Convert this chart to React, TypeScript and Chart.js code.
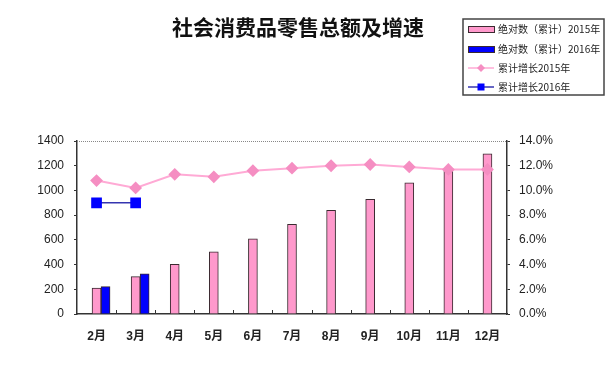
import React, { useEffect, useRef } from 'react';
import { Chart, registerables } from 'chart.js';
Chart.register(...registerables);

const chartTitle = '社会消费品零售总额及增速';
const categories = ['2月', '3月', '4月', '5月', '6月', '7月', '8月', '9月', '10月', '11月', '12月'];
const absolute2015 = [210, 302, 402, 504, 609, 726, 839, 928, 1062, 1165, 1297];
const absolute2016 = [221, 326, null, null, null, null, null, null, null, null, null];
const growth2015 = [10.8, 10.2, 11.3, 11.1, 11.6, 11.8, 12.0, 12.1, 11.9, 11.7, 11.7];
const growth2016 = [9.0, 9.0, null, null, null, null, null, null, null, null, null];
const placeholder = categories.map(() => null);
const legendLabels = ['绝对数（累计）2015年', '绝对数（累计）2016年', '累计增长2015年', '累计增长2016年'];

const PINK = '#FF99CC';
const PINK_LINE = '#FFAAD5';
const PINK_MARK = '#F58EC2';
const BLUE = '#0000FF';
const NAVY = '#3535B0';
const DARK = '#3a2a30';

const decorPlugin = {
  id: 'decor',
  afterDraw(chart: any) {
    const ctx = chart.ctx;
    const x = chart.scales.x;
    const area = chart.chartArea;
    ctx.save();
    // top dotted border
    ctx.strokeStyle = '#888';
    ctx.lineWidth = 1;
    ctx.setLineDash([1, 1]);
    ctx.beginPath();
    ctx.moveTo(area.left, area.top + 0.5);
    ctx.lineTo(area.right, area.top + 0.5);
    ctx.stroke();
    ctx.setLineDash([]);
    // inner ticks between categories
    const n = categories.length;
    ctx.strokeStyle = '#333';
    ctx.beginPath();
    for (let i = 1; i < n; i++) {
      const px = Math.round(x.left + (i * x.width) / n) + 0.5;
      ctx.moveTo(px, x.top);
      ctx.lineTo(px, x.top - 4);
    }
    ctx.stroke();

    // title
    ctx.fillStyle = '#111';
    ctx.font = 'bold 21px "Noto Sans CJK SC", sans-serif';
    ctx.textAlign = 'center';
    ctx.textBaseline = 'middle';
    ctx.fillText(chartTitle, 298, 27);

    // legend box
    ctx.strokeStyle = '#444';
    ctx.lineWidth = 1.5;
    ctx.strokeRect(463, 19, 141, 76);
    const rows = [29, 49, 68, 87];
    const sx = 468, ex = 494;
    // row 1
    ctx.lineWidth = 1;
    ctx.fillStyle = PINK;
    ctx.fillRect(sx, rows[0] - 3, ex - sx, 6);
    ctx.strokeStyle = DARK;
    ctx.strokeRect(sx + 0.5, rows[0] - 3 + 0.5, ex - sx, 6);
    // row 2
    ctx.fillStyle = BLUE;
    ctx.fillRect(sx, rows[1] - 3, ex - sx, 6);
    ctx.strokeRect(sx + 0.5, rows[1] - 3 + 0.5, ex - sx, 6);
    // row 3
    ctx.strokeStyle = PINK_LINE;
    ctx.lineWidth = 1.5;
    ctx.beginPath();
    ctx.moveTo(sx, rows[2]);
    ctx.lineTo(ex, rows[2]);
    ctx.stroke();
    ctx.fillStyle = PINK_MARK;
    const cx3 = (sx + ex) / 2;
    ctx.beginPath();
    ctx.moveTo(cx3, rows[2] - 4);
    ctx.lineTo(cx3 + 4, rows[2]);
    ctx.lineTo(cx3, rows[2] + 4);
    ctx.lineTo(cx3 - 4, rows[2]);
    ctx.closePath();
    ctx.fill();
    // row 4
    ctx.strokeStyle = NAVY;
    ctx.beginPath();
    ctx.moveTo(sx, rows[3]);
    ctx.lineTo(ex, rows[3]);
    ctx.stroke();
    ctx.fillStyle = BLUE;
    ctx.fillRect(cx3 - 3.5, rows[3] - 3.5, 7, 7);

    ctx.fillStyle = '#222';
    ctx.font = '10px "Noto Sans CJK SC", sans-serif';
    ctx.textAlign = 'left';
    ctx.textBaseline = 'middle';
    legendLabels.forEach((t, i) => ctx.fillText(t, 498, rows[i]));
    ctx.restore();
  },
};

export default function App() {
  const ref = useRef<HTMLCanvasElement>(null);
  useEffect(() => {
    const chart = new Chart(ref.current!, {
      type: 'bar',
      data: {
        labels: categories,
        datasets: [
          {
            type: 'line',
            label: legendLabels[2],
            data: growth2015,
            yAxisID: 'y1',
            borderColor: PINK_LINE,
            borderWidth: 2,
            pointStyle: 'rectRot',
            pointRadius: 5,
            pointBackgroundColor: PINK_MARK,
            pointBorderColor: PINK_MARK,
            order: 0,
          },
          {
            type: 'line',
            label: legendLabels[3],
            data: growth2016,
            yAxisID: 'y1',
            borderColor: NAVY,
            borderWidth: 1.5,
            pointStyle: 'rect',
            pointRadius: 6.5,
            pointBackgroundColor: BLUE,
            pointBorderColor: BLUE,
            order: 0,
          },
          {
            type: 'bar',
            label: '',
            data: placeholder,
            stack: 's0',
            barThickness: 9,
            order: 1,
          },
          {
            type: 'bar',
            label: legendLabels[0],
            data: absolute2015,
            stack: 's1',
            backgroundColor: PINK,
            borderColor: DARK,
            borderWidth: 1,
            barThickness: 9,
            order: 1,
          },
          {
            type: 'bar',
            label: legendLabels[1],
            data: absolute2016,
            stack: 's2',
            backgroundColor: BLUE,
            borderColor: DARK,
            borderWidth: 1,
            barThickness: 9,
            order: 1,
          },
        ] as any,
      },
      options: {
        responsive: false,
        animation: false,
        layout: { padding: { top: 141, left: 0, right: 0, bottom: 0 } },
        plugins: { legend: { display: false }, title: { display: false }, tooltip: { enabled: false } },
        scales: {
          x: {
            grid: { display: false, drawTicks: false },
            border: { display: true, color: '#333', width: 1.5 },
            ticks: { color: '#222', padding: 15, font: { family: '"Liberation Sans", "Noto Sans CJK SC", sans-serif', size: 12, weight: 'bold' } },
            afterFit: (s: any) => { s.height = 64; },
          },
          y: {
            position: 'left',
            min: 0,
            max: 1400,
            ticks: { stepSize: 200, color: '#222', padding: 10, callback: (v: any) => String(v), font: { family: '"Liberation Sans", Arial, sans-serif', size: 12 } },
            grid: { drawOnChartArea: false, drawTicks: true, tickLength: 3, color: '#333' },
            border: { display: true, color: '#333', width: 1.5 },
            afterFit: (s: any) => { s.width = 77; },
          },
          y1: {
            position: 'right',
            min: 0,
            max: 14,
            ticks: { stepSize: 2, color: '#222', padding: 9, callback: (v: any) => Number(v).toFixed(1) + '%', font: { family: '"Liberation Sans", Arial, sans-serif', size: 12 } },
            grid: { drawOnChartArea: false, drawTicks: true, tickLength: 3, color: '#333' },
            border: { display: true, color: '#333', width: 1.5 },
            afterFit: (s: any) => { s.width = 106; },
          },
        },
      },
      plugins: [decorPlugin],
    });
    return () => chart.destroy();
  }, []);
  return (
    <div style={{ position: 'fixed', left: 0, top: 0, width: 613, height: 378, background: '#fff' }}>
      <canvas ref={ref} width={613} height={378} style={{ display: 'block' }} />
    </div>
  );
}
